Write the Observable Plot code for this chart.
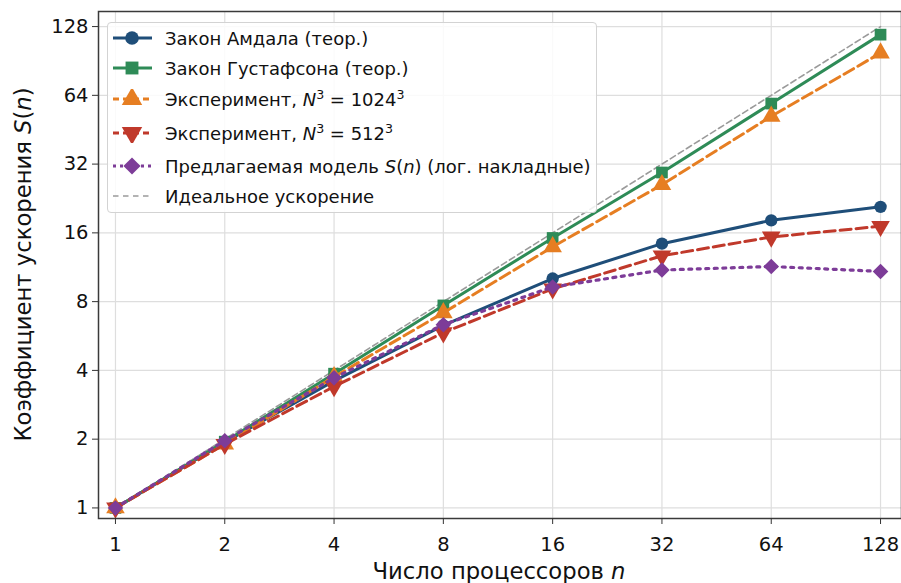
<!DOCTYPE html>
<html><head><meta charset="utf-8">
<script src="https://cdn.jsdelivr.net/npm/d3@7"></script>
<script src="https://cdn.jsdelivr.net/npm/@observablehq/plot@0.6"></script>
<style>
body{margin:0;background:#fff;}
#wrap{position:relative;width:901px;height:583px;font-family:"DejaVu Sans",sans-serif;overflow:hidden;}
#legend{position:absolute;left:107px;top:22px;width:490px;height:191px;border:1px solid #d3d3d3;border-radius:4px;background:rgba(255,255,255,0.85);box-sizing:border-box;}
.item{position:absolute;left:0;height:30px;display:flex;align-items:center;font-size:18px;color:#111;white-space:nowrap;}
.item svg{margin-left:4px;margin-right:13px;}
sup{font-size:0.7em;line-height:0;vertical-align:0.55em;}
</style></head>
<body><div id="wrap"></div>
<script>
// ---- data ----
const procs = [1, 2, 4, 8, 16, 32, 64, 128];
const idealSpeedup = [1, 2, 4, 8, 16, 32, 64, 128];
const amdahl = [1, 1.94, 3.6, 6.3, 10.1, 14.35, 18.15, 20.8];
const gustafson = [1, 1.95, 3.87, 7.7, 15.2, 29.4, 58.9, 118];
const exp1024 = [1, 1.9, 3.75, 7.15, 13.9, 26.0, 51.8, 98];
const exp512 = [1, 1.9, 3.4, 5.85, 9.1, 12.7, 15.35, 17.1];
const model = [1, 1.97, 3.71, 6.34, 9.27, 11.0, 11.4, 10.85];
const xTicks = [1, 2, 4, 8, 16, 32, 64, 128];
const yTicks = [1, 2, 4, 8, 16, 32, 64, 128];
const seriesNames = [
  "Закон Амдала (теор.)",
  "Закон Густафсона (теор.)",
  "Эксперимент, <i>N</i><sup>3</sup> = 1024<sup>3</sup>",
  "Эксперимент, <i>N</i><sup>3</sup> = 512<sup>3</sup>",
  "Предлагаемая модель <i>S</i>(<i>n</i>) (лог. накладные)",
  "Идеальное ускорение"
];

const rows = procs.map((p, i) => ({n: p, ideal: idealSpeedup[i], amdahl: amdahl[i], gustafson: gustafson[i], exp1024: exp1024[i], exp512: exp512[i], model: model[i]}));

const series = [
  {key: "amdahl", color: "#1f4e79", dash: null, symbol: "circle", r: 6.2, rotate: 0, width: 3},
  {key: "gustafson", color: "#2e8b57", dash: null, symbol: "square", r: 6.6, rotate: 0, width: 3},
  {key: "exp1024", color: "#e67e22", dash: "11,5", symbol: "triangle", r: 6.9, rotate: 0, width: 3},
  {key: "exp512", color: "#c0392b", dash: "11,5", symbol: "triangle", r: 6.9, rotate: 180, width: 3},
  {key: "model", color: "#7d3c98", dash: "3,5.5", symbol: "diamond2", r: 7, rotate: 0, width: 3.2},
  {key: "ideal", color: "#9a9a9a", dash: "6,3.5", symbol: null, r: 0, rotate: 0, width: 1.6}
];

const marks = [
  Plot.gridX(xTicks, {stroke: "#dedede", strokeOpacity: 1, strokeWidth: 1.2}),
  Plot.gridY(yTicks, {stroke: "#dedede", strokeOpacity: 1, strokeWidth: 1.2}),
  Plot.line(rows, {x: "n", y: "ideal", stroke: series[5].color, strokeWidth: series[5].width, strokeDasharray: series[5].dash})
];
for (const s of series.slice(0, 5)) {
  marks.push(Plot.line(rows, {x: "n", y: s.key, stroke: s.color, strokeWidth: s.width, strokeDasharray: s.dash}));
  marks.push(Plot.dot(rows, {x: "n", y: s.key, symbol: () => s.symbol, fill: s.color, stroke: "none", r: s.r, rotate: s.rotate}));
}
marks.push(
  Plot.frame({stroke: "#3a3a3a", strokeWidth: 1.5}),
  Plot.axisX(xTicks, {tickSize: 6, tickPadding: 13, fontSize: 19.5, tickFormat: d => String(d), label: null, stroke: "#333"}),
  Plot.axisY(yTicks, {tickSize: 6, tickPadding: 4, fontSize: 19.5, tickFormat: d => String(d), label: null, stroke: "#333"})
);

const chart = Plot.plot({
  width: 901, height: 583,
  marginLeft: 98, marginRight: 0, marginTop: 11, marginBottom: 65,
  style: {fontFamily: "DejaVu Sans, sans-serif", color: "#111", background: "#fff", overflow: "visible"},
  x: {type: "log", base: 2, domain: [0.898, 146.2]},
  y: {type: "log", base: 2, domain: [0.899, 149]},
  marks
});

const wrap = document.getElementById("wrap");
wrap.appendChild(chart);

// axis labels with italic math parts
const svg = d3.select(chart);
const yl = svg.append("text").attr("transform", "translate(30.5,264.5) rotate(-90)")
  .attr("text-anchor", "middle").attr("font-size", 22.7).attr("fill", "#111");
yl.append("tspan").text("Коэффициент ускорения ");
yl.append("tspan").attr("font-style", "italic").text("S");
yl.append("tspan").text("(");
yl.append("tspan").attr("font-style", "italic").text("n");
yl.append("tspan").text(")");
const xl = svg.append("text").attr("x", 499).attr("y", 578.5)
  .attr("text-anchor", "middle").attr("font-size", 22.7).attr("fill", "#111");
xl.append("tspan").text("Число процессоров ");
xl.append("tspan").attr("font-style", "italic").text("n");

// legend
const legend = document.createElement("div");
legend.id = "legend";
wrap.appendChild(legend);
const rowTops = [0, 30, 61, 95, 128, 158];
series.forEach((s, i) => {
  const item = document.createElement("div");
  item.className = "item";
  item.style.top = rowTops[i] + "px";
  const ns = "http://www.w3.org/2000/svg";
  const hs = document.createElementNS(ns, "svg");
  hs.setAttribute("width", 40); hs.setAttribute("height", 20);
  const ln = document.createElementNS(ns, "line");
  ln.setAttribute("x1", 1); ln.setAttribute("x2", 40); ln.setAttribute("y1", 10); ln.setAttribute("y2", 10);
  ln.setAttribute("stroke", s.color); ln.setAttribute("stroke-width", s.width);
  if (s.dash) ln.setAttribute("stroke-dasharray", s.key === "ideal" ? "5.5,4.5" : s.key === "model" ? "3,4" : "6,4");
  hs.appendChild(ln);
  if (s.symbol) {
    const symMap = {circle: d3.symbolCircle, square: d3.symbolSquare, triangle: d3.symbolTriangle, diamond2: d3.symbolDiamond2};
    const p = document.createElementNS(ns, "path");
    const rr = s.r * 1.1;
    p.setAttribute("d", d3.symbol(symMap[s.symbol], Math.PI * rr * rr)());
    p.setAttribute("transform", `translate(20,10) rotate(${s.rotate})`);
    p.setAttribute("fill", s.color);
    hs.appendChild(p);
  }
  item.appendChild(hs);
  const t = document.createElement("span");
  t.innerHTML = seriesNames[i];
  item.appendChild(t);
  legend.appendChild(item);
});
</script>
</body></html>
